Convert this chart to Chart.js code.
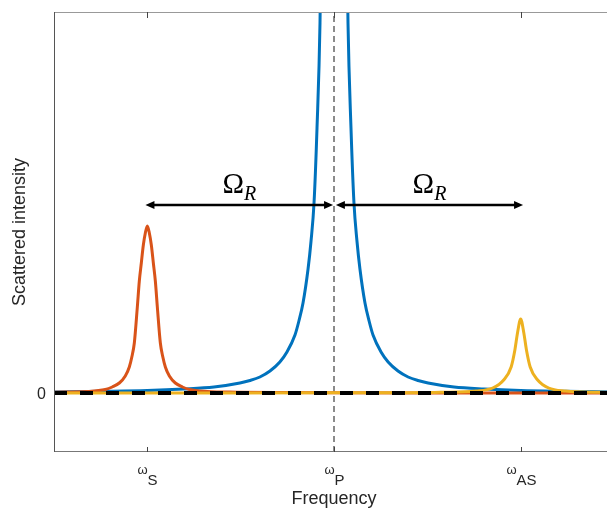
<!DOCTYPE html>
<html>
<head>
<meta charset="utf-8">
<script src="https://cdn.jsdelivr.net/npm/chart.js@4"></script>
<style>
html, body { margin: 0; padding: 0; overflow: hidden; background: #fff; }
#wrap { width: 620px; height: 512px; }
</style>
</head>
<body>
<div id="wrap"><canvas id="c" width="620" height="512"></canvas></div>
<script>
// frequency axis in units of the Raman shift, pump at 0
const tickPos = [-1, 0, 1];
const tickBase = ['\u03c9', '\u03c9', '\u03c9'];
const tickSub = ['S', 'P', 'AS'];

// Rayleigh line (pump)
const pumpX = [-1.5, -1.233, -1.0, -0.804, -0.643, -0.504, -0.450, -0.397, -0.343, -0.290, -0.252, -0.209, -0.188, -0.166, -0.139, -0.123, -0.107, -0.091, -0.075, -0.059, -0.043, 0,
  0.043, 0.059, 0.075, 0.091, 0.107, 0.123, 0.139, 0.166, 0.188, 0.209, 0.252, 0.290, 0.343, 0.397, 0.450, 0.504, 0.643, 0.804, 1.0, 1.233, 1.5];
const pumpY = [0.011, 0.017, 0.025, 0.04, 0.06, 0.10, 0.125, 0.16, 0.22, 0.31, 0.41, 0.58, 0.72, 0.90, 1.24, 1.52, 1.90, 2.65, 3.70, 6.0, 9.0, 12,
  9.0, 6.0, 3.70, 2.65, 1.90, 1.52, 1.24, 0.90, 0.72, 0.58, 0.41, 0.31, 0.22, 0.16, 0.125, 0.10, 0.06, 0.04, 0.025, 0.017, 0.011];

// Stokes line
const stokesX = [-1.5, -1.322, -1.225, -1.188, -1.15, -1.118, -1.0965, -1.0831, -1.0697, -1.0536, -1.0429, -1.0322, -1.0214, -1.0107, -1.0,
  -0.9893, -0.9786, -0.9678, -0.9571, -0.9464, -0.9303, -0.9169, -0.9035, -0.882, -0.85, -0.812, -0.775, -0.678, -0.517, -0.3, 0, 0.5, 1.0, 1.5];
const stokesY = [0.008, 0.015, 0.035, 0.06, 0.10, 0.17, 0.26, 0.36, 0.50, 0.86, 1.12, 1.30, 1.48, 1.60, 1.67,
  1.60, 1.48, 1.30, 1.12, 0.86, 0.50, 0.36, 0.26, 0.17, 0.10, 0.06, 0.035, 0.015, 0.008, 0.004, 0.002, 0.001, 0.001, 0.001];

// anti-Stokes line
const antiX = [-1.5, -1.0, -0.5, 0, 0.4, 0.571, 0.759, 0.85, 0.909, 0.949, 0.969, 0.983, 1.0, 1.017, 1.031, 1.051, 1.091, 1.15, 1.241, 1.429, 1.5];
const antiY = [0.0005, 0.0007, 0.001, 0.0015, 0.003, 0.007, 0.02, 0.05, 0.13, 0.26, 0.43, 0.60, 0.74, 0.60, 0.43, 0.26, 0.13, 0.05, 0.02, 0.007, 0.006];

const zeroX = [-1.5, 1.5];
const zeroY = [0, 0];
const yMin = -0.59;
const yMax = 3.81;

// Raman shift arrows
const arrowFrom = [-1.01, 0.01];
const arrowTo = [-0.005, 1.013];
const arrowY = 1.88;

function pts(xs, ys) {
  return xs.map((v, i) => ({x: v, y: ys[i]}));
}

const FONT = "'Liberation Sans', Arial, sans-serif";
const TXT = '#262626';

const extras = {
  id: 'extras',
  afterDatasetsDraw(chart) {
    const {ctx, chartArea: a, scales: {x, y}} = chart;
    ctx.save();

    // box
    ctx.lineWidth = 1;
    ctx.strokeStyle = '#999';
    ctx.beginPath(); ctx.moveTo(a.left, a.top + 0.5); ctx.lineTo(a.right, a.top + 0.5); ctx.stroke();
    ctx.strokeStyle = '#777';
    ctx.beginPath(); ctx.moveTo(a.left, a.bottom - 0.5); ctx.lineTo(a.right, a.bottom - 0.5); ctx.stroke();
    ctx.strokeStyle = '#555';
    ctx.beginPath(); ctx.moveTo(a.left + 0.5, a.top); ctx.lineTo(a.left + 0.5, a.bottom); ctx.stroke();

    // inner ticks + omega labels
    ctx.strokeStyle = '#444';
    x.ticks.forEach((t, i) => {
      const px = Math.round(x.getPixelForValue(t.value)) + 0.5;
      ctx.beginPath(); ctx.moveTo(px, a.bottom); ctx.lineTo(px, a.bottom - 5); ctx.stroke();
      ctx.beginPath(); ctx.moveTo(px, a.top); ctx.lineTo(px, a.top + 6); ctx.stroke();
      ctx.fillStyle = TXT;
      ctx.textBaseline = 'alphabetic';
      ctx.textAlign = 'left';
      ctx.font = '13px ' + FONT;
      const w1 = ctx.measureText(tickBase[i]).width;
      ctx.font = '15px ' + FONT;
      const w2 = ctx.measureText(tickSub[i]).width;
      const sx = px - (w1 + w2) / 2;
      ctx.font = '13px ' + FONT;
      ctx.fillText(tickBase[i], sx, a.bottom + 22);
      ctx.font = '15px ' + FONT;
      ctx.fillText(tickSub[i], sx + w1, a.bottom + 33);
    });

    // arrows
    const ay = y.getPixelForValue(arrowY);
    ctx.strokeStyle = '#000';
    ctx.fillStyle = '#000';
    ctx.lineWidth = 2.5;
    const head = (tip, dir) => {
      ctx.beginPath();
      ctx.moveTo(tip, ay);
      ctx.lineTo(tip - dir * 9, ay - 4);
      ctx.lineTo(tip - dir * 9, ay + 4);
      ctx.closePath();
      ctx.fill();
    };
    for (let i = 0; i < arrowFrom.length; i++) {
      const x0 = x.getPixelForValue(arrowFrom[i]);
      const x1 = x.getPixelForValue(arrowTo[i]);
      ctx.beginPath(); ctx.moveTo(x0 + 5, ay); ctx.lineTo(x1 - 5, ay); ctx.stroke();
      head(x0, -1);
      head(x1, 1);

      // Omega_R label
      ctx.font = "29px 'Liberation Serif', serif";
      const wO = ctx.measureText('\u03a9').width;
      ctx.font = "italic 20px 'Liberation Serif', serif";
      const wR = ctx.measureText('R').width;
      const lx = (x0 + x1) / 2 - (wO + wR) / 2;
      ctx.textAlign = 'left';
      ctx.textBaseline = 'alphabetic';
      ctx.font = "29px 'Liberation Serif', serif";
      ctx.fillText('\u03a9', lx, ay - 12);
      ctx.font = "italic 20px 'Liberation Serif', serif";
      ctx.fillText('R', lx + wO, ay - 5);
    }
    ctx.restore();
  }
};

new Chart(document.getElementById('c'), {
  type: 'line',
  data: {
    datasets: [
      {data: pts(zeroX, zeroY), borderColor: '#000', borderWidth: 4, borderDash: [13, 13], borderCapStyle: 'butt', pointRadius: 0, clip: 0},
      {data: pts(antiX, antiY), borderColor: '#EDB120', borderWidth: 3, pointRadius: 0, cubicInterpolationMode: 'monotone', clip: 0},
      {data: pts(stokesX, stokesY), borderColor: '#D95319', borderWidth: 3, pointRadius: 0, cubicInterpolationMode: 'monotone', clip: 0},
      {data: pts(pumpX, pumpY), borderColor: '#0072BD', borderWidth: 3, pointRadius: 0, cubicInterpolationMode: 'monotone', clip: 0},
      {data: pts([0, 0], [yMin, yMax]), borderColor: '#666', borderWidth: 1.5, borderDash: [6, 4], pointRadius: 0, clip: 0}
    ]
  },
  options: {
    responsive: false,
    animation: false,
    layout: {padding: {top: 12, right: 6, left: 0, bottom: 0}},
    plugins: {legend: {display: false}, tooltip: {enabled: false}},
    scales: {
      x: {
        type: 'linear',
        min: -1.5,
        max: 1.5,
        afterBuildTicks: s => { s.ticks = tickPos.map(v => ({value: v})); },
        afterFit: s => { s.height = 60; },
        ticks: {display: false},
        grid: {display: false},
        border: {display: false},
        title: {display: true, text: 'Frequency', color: TXT, font: {family: FONT, size: 18}, padding: {top: 0, bottom: 2}}
      },
      y: {
        min: yMin,
        max: yMax,
        afterBuildTicks: s => { s.ticks = [{value: 0}]; },
        afterFit: s => { s.width = 54; },
        ticks: {color: TXT, font: {family: FONT, size: 16}, padding: 0, labelOffset: 2},
        grid: {display: false},
        border: {display: false},
        title: {display: true, text: 'Scattered intensity', color: TXT, font: {family: FONT, size: 18}, padding: {top: 9, bottom: 0}}
      }
    }
  },
  plugins: [extras]
});
</script>
</body>
</html>
